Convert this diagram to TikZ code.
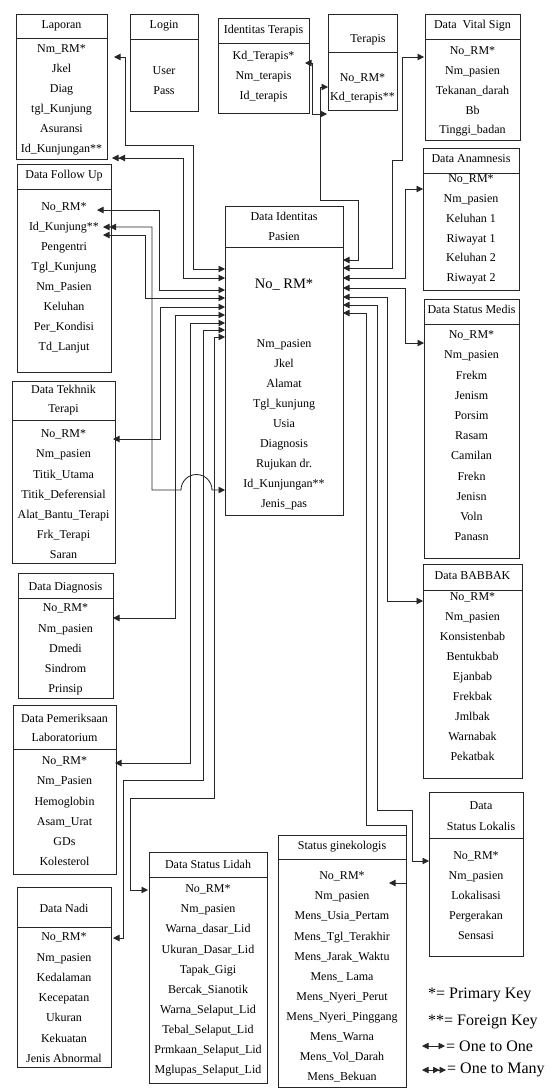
\documentclass[tikz,border=0pt]{standalone}
\usepackage{fontspec}
\setmainfont{Liberation Serif}
\usetikzlibrary{arrows.meta,fit}
\tikzset{
  tb/.style={draw=black!85, line width=1pt, inner sep=0pt},
  row/.style={font=\fontsize{12}{13}\selectfont, inner sep=0pt, text height=8pt, text depth=2.5pt},
  ttl/.style={row},
  big/.style={font=\fontsize{14.5}{16}\selectfont, inner sep=0pt},
  leg/.style={font=\fontsize{16}{18}\selectfont, inner sep=0pt, anchor=west},
  con/.style={line width=0.85pt, draw=black!85},
  tip/.tip={Triangle[length=6.5pt,width=6.5pt]},
  o2o/.style={con, tip-tip},
  o2m/.style={con, tip-{tip[]tip[]}},
}
\newcommand{\tbox}[6]{%
  \node[tb, fit={(#2,#3)(#4,#5)}] (#1h) {};
  \node[tb, fit={(#2,#5)(#4,#6)}] (#1b) {};}
\newcommand{\trows}[5]{%
  \foreach \t [count=\i] in {#5} \node[row] (#1r\i) at (#2, #3+#4*\i-#4) {\t};}
\begin{document}
\begin{tikzpicture}[x=1pt,y=-1pt]
\useasboundingbox (0,0) rectangle (558,1088);

% Laporan
\tbox{lap}{16}{14}{107}{38}{159}
\node[ttl] (lapT) at (61.5,26) {Laporan};
\trows{lap}{61.5}{50}{20}{Nm\_RM*,Jkel,Diag,tgl\_Kunjung,Asuransi,Id\_Kunjungan**}

% Login
\tbox{log}{130}{14}{198}{39}{111}
\node[ttl] (logT) at (164,26) {Login};
\trows{log}{164}{72}{20}{User,Pass}

% Identitas Terapis
\tbox{idt}{218}{18}{309}{43}{113}
\node[ttl] (idtT) at (263.5,31) {Identitas Terapis};
\trows{idt}{263.5}{57}{20}{Kd\_Terapis*,Nm\_terapis,Id\_terapis}

% Terapis
\tbox{ter}{328}{14}{397}{52}{110}
\node[ttl] (terT) at (368,40) {Terapis};
\trows{ter}{362.5}{79}{19}{No\_RM*,Kd\_terapis**}

% Data Vital Sign
\tbox{vs}{425}{14}{520}{39}{140}
\node[ttl] (vsT) at (472.5,26) {Data\ \ Vital Sign};
\trows{vs}{472.5}{52}{19.75}{No\_RM*,Nm\_pasien,Tekanan\_darah,Bb,Tinggi\_badan}

% Data Anamnesis
\tbox{ana}{423}{148}{519}{173}{290}
\node[ttl] (anaT) at (471,160) {Data Anamnesis};
\trows{ana}{471}{180}{19.8}{No\_RM*,Nm\_pasien,Keluhan 1,Riwayat 1,Keluhan 2,Riwayat 2}

% Data Status Medis
\tbox{sm}{424}{299}{519}{324}{558}
\node[ttl] (smT) at (471.5,311) {Data Status Medis};
\trows{sm}{471.5}{336}{20.2}{No\_RM*,Nm\_pasien,Frekm,Jenism,Porsim,Rasam,Camilan,Frekn,Jenisn,Voln,Panasn}

% Data BABBAK
\tbox{bab}{423}{564}{522}{590}{778}
\node[ttl] (babT) at (472.5,577) {Data BABBAK};
\trows{bab}{472.5}{598}{20}{No\_RM*,Nm\_pasien,Konsistenbab,Bentukbab,Ejanbab,Frekbak,Jmlbak,Warnabak,Pekatbak}

% Data Status Lokalis
\tbox{lok}{429}{792}{523}{838}{956}
\node[ttl] (lokT1) at (481,807) {Data};
\node[ttl] (lokT2) at (481,828) {Status Lokalis};
\trows{lok}{476}{857}{20}{No\_RM*,Nm\_pasien,Lokalisasi,Pergerakan,Sensasi}

% Status ginekologis
\tbox{gin}{278}{835}{406}{859}{1087}
\node[ttl] (ginT) at (342,847) {Status ginekologis};
\trows{gin}{342}{877}{20.1}{No\_RM*,Nm\_pasien,Mens\_Usia\_Pertam,Mens\_Tgl\_Terakhir,Mens\_Jarak\_Waktu,Mens\_ Lama,Mens\_Nyeri\_Perut,Mens\_Nyeri\_Pinggang,Mens\_Warna,Mens\_Vol\_Darah,Mens\_Bekuan}

% Data Follow Up
\tbox{fu}{17}{164}{111}{189}{372}
\node[ttl] (fuT) at (64,176) {Data Follow Up};
\trows{fu}{64}{208}{19.9}{No\_RM*,Id\_Kunjung**,Pengentri,Tgl\_Kunjung,Nm\_Pasien,Keluhan,Per\_Kondisi,Td\_Lanjut}

% Data Identitas Pasien
\tbox{dip}{225}{206}{343}{247}{515}
\node[ttl] (dipT1) at (284,218) {Data Identitas};
\node[ttl] (dipT2) at (284,238) {Pasien};
\node[big] (dipPK) at (284,285) {No\_ RM*};
\trows{dip}{284}{345}{20}{Nm\_pasien,Jkel,Alamat,Tgl\_kunjung,Usia,Diagnosis,Rujukan dr.,Id\_Kunjungan**,Jenis\_pas}

% Data Tekhnik Terapi
\tbox{tt}{12}{381}{115}{420}{563}
\node[ttl] (ttT1) at (63.5,391) {Data Tekhnik};
\node[ttl] (ttT2) at (63.5,410) {Terapi};
\trows{tt}{63.5}{435}{20.2}{No\_RM*,Nm\_pasien,Titik\_Utama,Titik\_Deferensial,Alat\_Bantu\_Terapi,Frk\_Terapi,Saran}

% Data Diagnosis
\tbox{dg}{18}{573}{113}{598}{698}
\node[ttl] (dgT) at (65.5,588) {Data Diagnosis};
\trows{dg}{65.5}{609}{20.25}{No\_RM*,Nm\_pasien,Dmedi,Sindrom,Prinsip}

% Data Pemeriksaan Laboratorium
\tbox{lab}{13}{705}{116}{749}{874}
\node[ttl] (labT1) at (64.5,720) {Data Pemeriksaan};
\node[ttl] (labT2) at (64.5,739) {Laboratorium};
\trows{lab}{64.5}{762}{20.2}{No\_RM*,Nm\_Pasien,Hemoglobin,Asam\_Urat,GDs,Kolesterol}

% Data Nadi
\tbox{nadi}{17}{887}{111}{927}{1067}
\node[ttl] (nadiT) at (64,910) {Data Nadi};
\trows{nadi}{64}{938}{20.3}{No\_RM*,Nm\_pasien,Kedalaman,Kecepatan,Ukuran,Kekuatan,Jenis Abnormal}

% Data Status Lidah
\tbox{lid}{149}{852}{267}{877}{1083}
\node[ttl] (lidT) at (208,866) {Data Status Lidah};
\trows{lid}{208}{890}{20.1}{No\_RM*,Nm\_pasien,Warna\_dasar\_Lid,Ukuran\_Dasar\_Lid,Tapak\_Gigi,Bercak\_Sianotik,Warna\_Selaput\_Lid,Tebal\_Selaput\_Lid,Prmkaan\_Selaput\_Lid,Mglupas\_Selaput\_Lid}

% ---------- connector end points ----------
\coordinate (dl1) at (225,269); \coordinate (eLapNm) at (114,57);
\coordinate (dl2) at (225,278); \coordinate (eLapId) at (112,158);
\coordinate (dl3) at (225,290); \coordinate (eFuNo) at (97,210);
\coordinate (dl4) at (225,298); \coordinate (eFuB) at (103,235);
\coordinate (dId) at (225,490); \coordinate (eFuId) at (103,227);
\coordinate (dl5) at (225,307); \coordinate (eTt) at (113,439);
\coordinate (dl6) at (225,315); \coordinate (eDg) at (113,618);
\coordinate (dl7) at (225,323); \coordinate (eLab) at (115,763);
\coordinate (dl8) at (225,330); \coordinate (eNadi) at (113,938);
\coordinate (dl9) at (225,337); \coordinate (eLid) at (148,890);
\coordinate (dr1) at (343,260); \coordinate (eTer) at (328,87);
\coordinate (dr2) at (343,268); \coordinate (eVs) at (424,57);
\coordinate (dr3) at (343,278); \coordinate (eAna) at (423,189);
\coordinate (dr4) at (343,288); \coordinate (eSm) at (424,343);
\coordinate (dr5) at (343,297); \coordinate (eBab) at (423,601);
\coordinate (dr6) at (343,305); \coordinate (eLok) at (429,861);
\coordinate (dr7) at (343,313); \coordinate (eGin) at (389,883);
\coordinate (eIdt) at (305,63); \coordinate (eTerK) at (327,114);

% ---------- connectors, left side ----------
\draw[o2o] (dl1) -| (193,145) -| (125,57) -- (eLapNm);
\draw[o2m] (dl2) -| (183,158) -- (eLapId);
\draw[o2o] (dl3) -| (159,210) -- (eFuNo);
\draw[o2o] (dl4) -| (145,235) -- (eFuB);
\draw[o2m] (dId) -- (212,490) arc[start angle=0,end angle=180,radius=15.5pt] -- (152,490) |- (eFuId);
\draw[o2o] (dl5) -| (160,439) -- (eTt);
\draw[o2o] (dl6) -| (175,618) -- (eDg);
\draw[o2o] (dl7) -| (190,763) -- (eLab);
\draw[o2o] (dl8) -| (203,780) -| (123,938) -- (eNadi);
\draw[o2o] (dl9) -| (214,798) -| (130,890) -- (eLid);

% ---------- connectors, right side ----------
\draw[o2o] (dr1) -| (358,200) -| (320,87) -- (eTer);
\draw[o2o] (eIdt) -- (312,63) |- (eTerK);
\draw[o2o] (dr2) -| (392,160) -| (402,57) -- (eVs);
\draw[o2o] (dr3) -| (405,189) -- (eAna);
\draw[o2o] (dr4) -| (405,343) -- (eSm);
\draw[o2o] (dr5) -| (387,601) -- (eBab);
\draw[o2o] (dr6) -| (377,810) -| (412,861) -- (eLok);
\draw[o2o] (dr7) -| (366,825) -| (406,883) -- (eGin);

% ---------- legend ----------
\node[leg] (lg1) at (428,995) {*= Primary Key};
\node[leg] (lg2) at (428,1022) {**= Foreign Key};
\coordinate (la1) at (422,1046); \coordinate (lb1) at (445,1046);
\draw[o2o] (la1) -- (lb1);
\node[leg] (lg3) at (446,1046) {= One to One};
\coordinate (la2) at (422,1070); \coordinate (lb2) at (446,1070);
\draw[o2m] (la2) -- (lb2);
\node[leg] (lg4) at (447,1070) {= One to Many};
\end{tikzpicture}
\end{document}
